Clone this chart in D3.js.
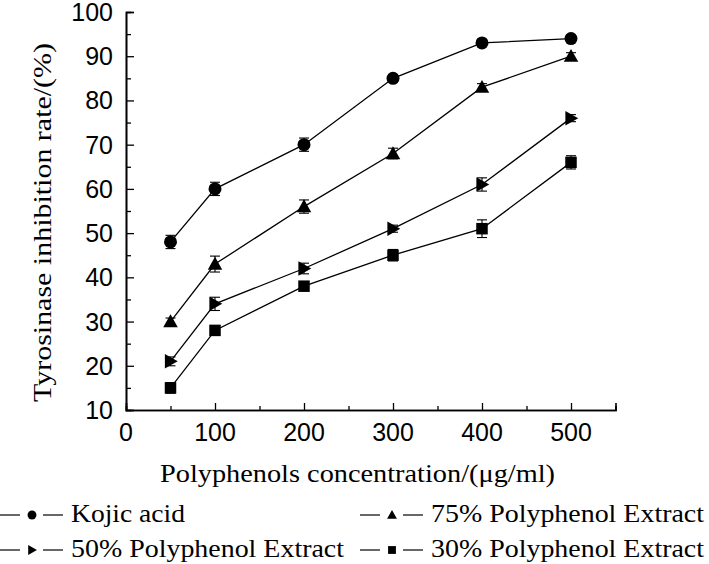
<!DOCTYPE html>
<html>
<head>
<meta charset="utf-8">
<script src="https://cdn.jsdelivr.net/npm/d3@7"></script>
<style>
  body { margin: 0; background: #fff; }
  svg { display: block; }
</style>
</head>
<body>
<svg id="chart" width="709" height="564"></svg>
<script>
// concentrations (ug/ml)
const conc = [50, 100, 200, 300, 400, 500];

const seriesNames = ['Kojic acid', '75% Polyphenol Extract', '50% Polyphenol Extract', '30% Polyphenol Extract'];
const kojic = [48, 60, 70, 85, 93, 94];
const kojicErr = [1.5, 1.5, 1.5, 0.8, 0.8, 0.5];
const ext75 = [30, 43, 56, 68, 83, 90];
const ext75Err = [0.8, 1.8, 1.5, 1.2, 0.8, 0.8];
const ext50 = [21, 34, 42, 51, 61, 76];
const ext50Err = [1, 1.5, 1.2, 0.8, 1.5, 0.8];
const ext30 = [15, 28, 38, 45, 51, 66];
const ext30Err = [1.2, 0.8, 0.8, 1.3, 2, 1.5];

const xTicks = [0, 100, 200, 300, 400, 500];
const yTicks = [10, 20, 30, 40, 50, 60, 70, 80, 90, 100];

const allSeries = [
  { name: seriesNames[0], vals: kojic, err: kojicErr, sym: 'circle' },
  { name: seriesNames[1], vals: ext75, err: ext75Err, sym: 'up' },
  { name: seriesNames[2], vals: ext50, err: ext50Err, sym: 'right' },
  { name: seriesNames[3], vals: ext30, err: ext30Err, sym: 'square' }
];

const svg = d3.select('#chart');
const m = { left: 126, right: 615.5, top: 12, bottom: 410 };

const x = d3.scaleLinear().domain([0, 550]).range([m.left, m.right]);
const y = d3.scaleLinear().domain([10, 100]).range([m.bottom, m.top]);

const tickFont = '"Liberation Sans", Arial, sans-serif';
const serif = '"Liberation Serif", "Times New Roman", serif';

// axes, ticks pointing inward
const xAxis = svg.append('g').attr('transform', `translate(0,${m.bottom})`)
  .call(d3.axisTop(x).tickValues(xTicks).tickSize(7).tickFormat(''));
xAxis.append('g').call(d3.axisTop(x).tickValues([50, 150, 250, 350, 450, 550]).tickSize(4).tickFormat(''));
xAxis.selectAll('.domain').attr('stroke', '#000').attr('stroke-width', 1.6);
xAxis.selectAll('line').attr('stroke', '#000').attr('stroke-width', 1.3);

svg.append('g').selectAll('text').data(xTicks).join('text')
  .attr('x', d => x(d)).attr('y', 441)
  .attr('text-anchor', 'middle')
  .style('font-family', tickFont).style('font-size', '25px')
  .text(d => d);

const yAxis = svg.append('g').attr('transform', `translate(${m.left},0)`)
  .call(d3.axisRight(y).tickValues(yTicks).tickSize(8).tickFormat(''));
yAxis.append('g').call(d3.axisRight(y).tickValues([15, 25, 35, 45, 55, 65, 75, 85, 95]).tickSize(5).tickFormat(''));
yAxis.selectAll('.domain').attr('stroke', '#000').attr('stroke-width', 1.6);
yAxis.selectAll('line').attr('stroke', '#000').attr('stroke-width', 1.3);

svg.append('g').selectAll('text').data(yTicks).join('text')
  .attr('x', m.left - 13).attr('y', d => y(d) + 9)
  .attr('text-anchor', 'end')
  .style('font-family', tickFont).style('font-size', '25px')
  .text(d => d);

// axis titles
svg.append('text')
  .attr('x', 160).attr('y', 482)
  .attr('textLength', 395).attr('lengthAdjust', 'spacingAndGlyphs')
  .style('font-family', serif).style('font-size', '26px')
  .text('Polyphenols concentration/(μg/ml)');

svg.append('text')
  .attr('transform', 'translate(51,402) rotate(-90)')
  .attr('textLength', 359).attr('lengthAdjust', 'spacingAndGlyphs')
  .style('font-family', serif).style('font-size', '26px')
  .text('Tyrosinase inhibition rate/(%)');

function marker(g, sym, s) {
  if (sym === 'circle') {
    g.append('circle').attr('r', s * 0.52).attr('fill', '#000');
  } else if (sym === 'square') {
    g.append('rect').attr('x', -s * 0.46).attr('y', -s * 0.46)
      .attr('width', s * 0.92).attr('height', s * 0.92).attr('fill', '#000');
  } else if (sym === 'up') {
    g.append('path').attr('d', `M0,${-s * 0.58}L${s * 0.58},${s * 0.45}L${-s * 0.58},${s * 0.45}Z`).attr('fill', '#000');
  } else {
    g.append('path').attr('d', `M${s * 0.58},0L${-s * 0.45},${s * 0.58}L${-s * 0.45},${-s * 0.58}Z`).attr('fill', '#000');
  }
}

const line = d3.line().x((d, i) => x(conc[i])).y(d => y(d));

allSeries.forEach(ser => {
  const g = svg.append('g');
  g.append('path').datum(ser.vals).attr('d', line)
    .attr('fill', 'none').attr('stroke', '#000').attr('stroke-width', 1.3);

  // error bars
  ser.vals.forEach((v, i) => {
    const cx = x(conc[i]);
    const y1 = y(v + ser.err[i]), y2 = y(v - ser.err[i]);
    const eb = g.append('g').attr('stroke', '#000').attr('stroke-width', 1.1);
    eb.append('line').attr('x1', cx).attr('x2', cx).attr('y1', y1).attr('y2', y2);
    eb.append('line').attr('x1', cx - 5).attr('x2', cx + 5).attr('y1', y1).attr('y2', y1);
    eb.append('line').attr('x1', cx - 5).attr('x2', cx + 5).attr('y1', y2).attr('y2', y2);
  });

  ser.vals.forEach((v, i) => {
    const mk = g.append('g').attr('transform', `translate(${x(conc[i])},${y(v)})`);
    marker(mk, ser.sym, 12.5);
  });
});

// legend, two columns
const legendPos = [
  { x: 0, y: 515, w: 114 }, { x: 360, y: 515, w: 273 },
  { x: 0, y: 550, w: 273 }, { x: 360, y: 550, w: 273 }
];
allSeries.forEach((ser, i) => {
  const p = legendPos[i];
  const lg = svg.append('g').attr('transform', `translate(${p.x},${p.y})`);
  lg.append('line').attr('x1', 0).attr('x2', 20).attr('stroke', '#000').attr('stroke-width', 1.2);
  lg.append('line').attr('x1', 43).attr('x2', 63).attr('stroke', '#000').attr('stroke-width', 1.2);
  const mk = lg.append('g').attr('transform', 'translate(32,0)');
  marker(mk, ser.sym, 8.5);
  lg.append('text').attr('x', 71).attr('y', 6.5)
    .attr('textLength', p.w).attr('lengthAdjust', 'spacingAndGlyphs')
    .style('font-family', serif).style('font-size', '26px')
    .text(ser.name);
});
</script>
</body>
</html>
